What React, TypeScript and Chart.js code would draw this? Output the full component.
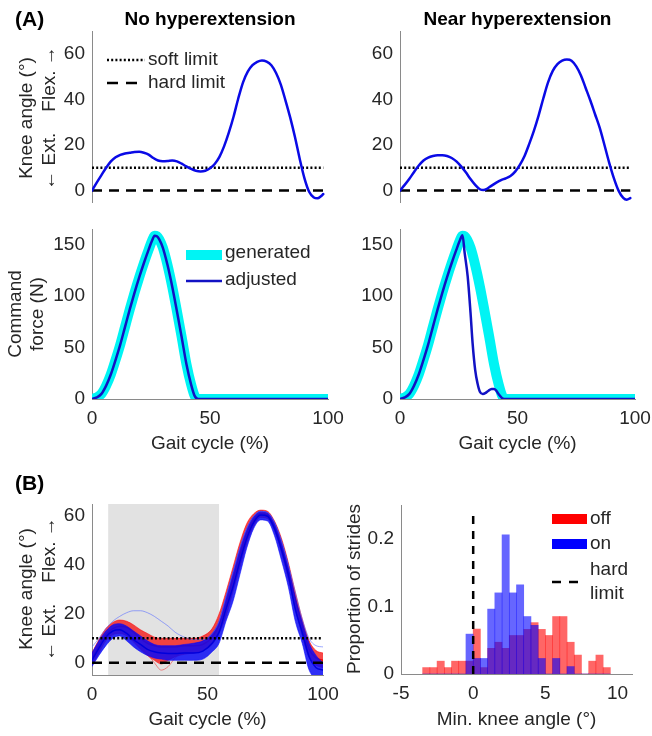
import React, { useEffect, useRef } from "react";
import { Chart, registerables } from "chart.js";

Chart.register(...registerables);

const FONT = "'Liberation Sans', Arial, Helvetica, sans-serif";
const INK = "#262626";
const AXIS = "#8a8a8a";

// ---------------- data ----------------
const KNEE_TICKS = [0, 20, 40, 60];
const GAIT_TICKS = [0, 50, 100];
const FORCE_TICKS = [0, 50, 100, 150];
const HIST_X_TICKS = [-5, 0, 5, 10];
const HIST_Y_TICKS = [0, 0.1, 0.2];

const SOFT_LIMIT = 10;
const HARD_LIMIT = 0;
const LIMIT_SPAN_A = [0, 98];
const LIMIT_SPAN_B = [0, 100];
const HIST_LIMIT_TOP = 0.24;
const ASSIST_WINDOW = [7, 55];

// (A) knee angle, no hyperextension
const NOHX_X = [0, 2, 4, 6, 8, 10, 12, 14, 16, 18, 20, 22, 24, 26, 28, 30, 32, 34, 36, 38, 40, 42, 44, 46, 48, 50, 52, 54, 56, 58, 60, 62, 64, 66, 68, 70, 72, 74, 76, 78, 80, 82, 84, 86, 88, 90, 92, 94, 95.5, 97, 98];
const NOHX_Y = [0, 3.5, 6.8, 10, 12.8, 14.6, 15.7, 16.3, 16.6, 16.9, 17, 16.6, 15.8, 14.3, 13.2, 12.9, 13, 13.2, 12.8, 11.8, 10.6, 9.5, 8.7, 8.4, 8.7, 9.8, 11.7, 14.8, 19.5, 25.5, 32.5, 40.5, 47.5, 52.2, 55, 56.5, 57.1, 56.6, 55, 51.6, 46.5, 39.5, 32, 23.5, 14, 5.5, -0.5, -3, -3.4, -2.5, -1.5];

// (A) knee angle, near hyperextension
const NEAR_X = [0, 2, 4, 6, 8, 10, 12, 14, 16, 18, 20, 22, 24, 26, 28, 30, 32, 34, 35.5, 37, 39, 41, 43, 45, 47, 49, 51, 53, 55, 57, 59, 61, 63, 65, 67, 69, 71, 73, 75, 77, 79, 81, 83, 85, 87, 89, 91, 93, 95, 96.5, 98];
const NEAR_Y = [0, 2.5, 5.2, 8.2, 11, 13.2, 14.5, 15.2, 15.5, 15.5, 15.2, 14.3, 12.8, 10.6, 8, 5.1, 2.5, 0.6, 0.3, 0.8, 2.2, 3.5, 4.6, 5.4, 6.4, 8.3, 11.3, 15.2, 20.5, 26.3, 33, 40.5, 47.5, 52.5, 55.5, 57, 57.5, 57, 54.5, 50.5, 45, 39.5, 33.5, 27.5, 20, 12.3, 5.5, 0, -3.2, -4, -3.3];

// (A) command force, generated
const GEN_X = [0, 2, 4, 6, 8, 10, 12, 14, 16, 18, 20, 22, 24, 25.5, 26.5, 27.5, 28.5, 30, 32, 34, 36, 38, 40, 42, 43.5, 45, 100];
const GEN_Y = [0, 1.5, 5, 13, 24, 38, 53, 70, 87, 103, 118, 132, 145, 154, 158.5, 158, 155, 147, 130, 109, 85, 60, 34, 14, 3, 0, 0];
// adjusted force, no hyperextension (identical to generated)
const ADJ_NOHX_X = GEN_X;
const ADJ_NOHX_Y = GEN_Y;
// adjusted force, near hyperextension
const ADJ_NEAR_X = [0, 2, 4, 6, 8, 10, 12, 14, 16, 18, 20, 22, 24, 25.5, 26.6, 27.5, 28.8, 30, 30.9, 32, 33, 34, 35.2, 36.5, 37.5, 39, 40, 41, 42, 43.5, 45, 100];
const ADJ_NEAR_Y = [0, 1.5, 5, 13, 24, 38, 53, 70, 87, 103, 118, 132, 145, 154, 159, 142, 119, 84, 54, 28, 15, 7, 4.8, 6, 7.8, 9.8, 9.8, 8, 4.5, 0.8, 0, 0];

// (B) stride bundles: gait cycle (%) and knee angle (deg)
const B_X = [0, 3, 6, 9, 12, 15, 18, 21, 24, 27, 30, 33, 36, 40, 44, 48, 52, 55, 58, 61, 64, 67, 70, 73, 76, 79, 82, 85, 88, 91, 94, 97, 100];
const OFF_LOWER = [-1, 4, 9, 11.5, 12, 11, 8.5, 5.5, 3, 1, -0.5, 1, 2.5, 3.5, 4, 5, 7.5, 12, 19, 29, 39, 49, 56, 59.5, 59, 54, 45, 34, 22, 11, 2, -1, -2];
const OFF_UPPER = [4, 9.5, 14, 16.5, 17.5, 17, 15.5, 13.5, 12, 10.5, 10, 10, 10, 10, 10, 11, 14, 20, 29, 39, 49, 57, 61, 62.5, 62, 58, 51, 41, 29, 18, 9, 5, 4];
const OFF_MEAN = [1.5, 7, 11.5, 14, 15, 14.5, 12.5, 10, 8, 7, 6.5, 6.5, 6.5, 7, 7, 7.5, 10.5, 15.5, 24, 34, 44, 53, 58.5, 61, 60.5, 56, 48, 38, 26, 15, 5.5, 2, 1];
const OFF_DIP = [0, 5, 10, 13, 14, 12.5, 10, 7, 3.5, 0, -3, -1.5, 2, 4.5, 5.5, 6.5, 9.5, 14.5, 23, 33, 43, 52, 58, 61, 60, 55.5, 47, 37, 25, 13, 4, -1, 0];
const ON_LOWER = [-1.5, 3, 7, 10, 11, 9, 6.5, 4.5, 3, 2, 1.5, 1, 1, 1, 1, 1.5, 4.5, 8, 17, 25, 36, 47, 55, 58.5, 58, 52, 42, 31, 17, 8, -3, -6, -6];
const ON_UPPER = [4, 9, 13, 15.5, 16, 15, 13, 11, 9, 7.5, 7, 7, 7, 7.5, 8, 9, 12, 17, 27, 37, 47, 55, 60, 62, 61.5, 57.5, 50, 40, 27, 17, 8, 3, 0];
const ON_MEAN = [1, 6, 10.5, 13, 13.5, 12, 9.5, 7.5, 5.5, 4.5, 4, 3.8, 3.8, 4, 4, 4.8, 8, 12.5, 22, 31, 41.5, 51, 57.5, 60.5, 60, 55, 46.5, 36, 22, 12.5, 2.5, -2, -3];
const ON_STRAY = [6.5, 10, 14, 17, 19, 20.5, 21.3, 21.3, 20.5, 19, 17, 15, 12.5, 10.5, 9.5, 9.5, 12, 17, 27, 37, 47, 55, 60, 62, 61.5, 57.5, 50, 40, 29, 18, 10, 7, 6.5];

// (B) histogram of minimum knee angle (bin centres, 0.5 deg bins)
const HIST_BINS = [-3.25, -2.75, -2.25, -1.75, -1.25, -0.75, -0.25, 0.25, 0.75, 1.25, 1.75, 2.25, 2.75, 3.25, 3.75, 4.25, 4.75, 5.25, 5.75, 6.25, 6.75, 7.25, 7.75, 8.25, 8.75, 9.25];
const OFF_PROP = [0.0095, 0.0095, 0.019, 0.0095, 0.019, 0.019, 0.019, 0.0665, 0.0095, 0.038, 0.047, 0.038, 0.057, 0.057, 0.066, 0.076, 0.066, 0.057, 0.085, 0.085, 0.047, 0.028, 0, 0.019, 0.028, 0.0095];
const ON_PROP = [0, 0, 0, 0, 0, 0, 0.059, 0.023, 0.023, 0.096, 0.12, 0.206, 0.12, 0.132, 0.085, 0.072, 0.023, 0, 0.023, 0, 0.011, 0, 0, 0, 0, 0];

// ---------------- layout ----------------
type Rect = { x: number; y: number; w: number; h: number };
type Plot = { l: number; t: number; r: number; b: number };
const YW = 60;
const XH = 40;

const R_KNEE_L: Rect = { x: 0, y: 0, w: 340, h: 215 };
const P_KNEE_L: Plot = { l: 92, t: 31, r: 328, b: 202 };
const R_KNEE_R: Rect = { x: 330, y: 0, w: 322, h: 215 };
const P_KNEE_R: Plot = { l: 400, t: 31, r: 635, b: 202 };
const R_FORCE_L: Rect = { x: 0, y: 215, w: 345, h: 240 };
const P_FORCE_L: Plot = { l: 92, t: 229, r: 328, b: 399 };
const R_FORCE_R: Rect = { x: 330, y: 215, w: 322, h: 240 };
const P_FORCE_R: Plot = { l: 400, t: 229, r: 635, b: 399 };
const R_B: Rect = { x: 0, y: 460, w: 345, h: 276 };
const P_B: Plot = { l: 92, t: 504, r: 323, b: 675 };
const R_H: Rect = { x: 330, y: 460, w: 322, h: 276 };
const P_H: Plot = { l: 401, t: 505, r: 632, b: 674 };

// ---------------- helpers ----------------
const pts = (xs: number[], ys: number[]) => xs.map((x, i) => ({ x, y: ys[i] }));

function zeroPad(s: any) {
  s.paddingLeft = 0;
  s.paddingRight = 0;
  s.paddingTop = 0;
  s.paddingBottom = 0;
}

function yScale(min: number, max: number, ticks: number[]) {
  return {
    type: "linear",
    position: "left",
    min,
    max,
    afterBuildTicks: (s: any) => {
      s.ticks = ticks.map((v) => ({ value: v }));
    },
    ticks: {
      font: { family: FONT, size: 19 },
      color: INK,
      padding: 7,
      autoSkip: false,
      callback: (v: any) => String(v),
    },
    grid: { display: false, drawTicks: false },
    border: { display: true, color: AXIS, width: 1 },
    afterFit: (s: any) => {
      s.width = YW;
      zeroPad(s);
    },
  };
}

function xScale(min: number, max: number, ticks: number[] | null) {
  if (!ticks) return { type: "linear", min, max, display: false, offset: false };
  return {
    type: "linear",
    position: "bottom",
    min,
    max,
    offset: false,
    afterBuildTicks: (s: any) => {
      s.ticks = ticks.map((v) => ({ value: v }));
    },
    ticks: {
      font: { family: FONT, size: 19 },
      color: INK,
      padding: 8,
      maxRotation: 0,
      autoSkip: false,
      callback: (v: any) => String(v),
    },
    grid: { display: false, drawTicks: false },
    border: { display: true, color: AXIS, width: 1 },
    afterFit: (s: any) => {
      s.height = XH;
      zeroPad(s);
    },
  };
}

function padding(rect: Rect, plot: Plot, xShown: boolean) {
  return {
    left: plot.l - rect.x - YW,
    top: plot.t - rect.y,
    right: rect.x + rect.w - plot.r,
    bottom: rect.y + rect.h - plot.b - (xShown ? XH : 0),
  };
}

function text(
  ctx: CanvasRenderingContext2D,
  s: string,
  x: number,
  y: number,
  o: { size?: number; bold?: boolean; align?: CanvasTextAlign; rot?: boolean; color?: string } = {}
) {
  ctx.save();
  ctx.font = `${o.bold ? "bold " : ""}${o.size ?? 19}px ${FONT}`;
  ctx.fillStyle = o.color ?? INK;
  ctx.textAlign = o.align ?? "center";
  ctx.textBaseline = "middle";
  ctx.translate(x, y);
  if (o.rot) ctx.rotate(-Math.PI / 2);
  ctx.fillText(s, 0, 0);
  ctx.restore();
}

function seg(ctx: CanvasRenderingContext2D, x0: number, y0: number, x1: number, y1: number, color: string, width: number, dash: number[] = []) {
  ctx.save();
  ctx.strokeStyle = color;
  ctx.lineWidth = width;
  ctx.setLineDash(dash);
  ctx.beginPath();
  ctx.moveTo(x0, y0);
  ctx.lineTo(x1, y1);
  ctx.stroke();
  ctx.restore();
}

function decor(rect: Rect, draw: (ctx: CanvasRenderingContext2D) => void, under?: (chart: any) => void) {
  return {
    id: "decor",
    beforeDatasetsDraw(chart: any) {
      if (under) under(chart);
    },
    afterDraw(chart: any) {
      const ctx = chart.ctx as CanvasRenderingContext2D;
      ctx.save();
      ctx.translate(-rect.x, -rect.y);
      draw(ctx);
      ctx.restore();
    },
  };
}

function curve(xs: number[], ys: number[], color: string, width: number, extra: any = {}) {
  return {
    type: "line",
    data: pts(xs, ys),
    borderColor: color,
    borderWidth: width,
    pointRadius: 0,
    fill: false,
    cubicInterpolationMode: "monotone",
    borderJoinStyle: "round",
    borderCapStyle: "round",
    ...extra,
  };
}

function limitLine(y: number, span: number[], dash: number[], order: number) {
  return {
    type: "line",
    data: span.map((x) => ({ x, y })),
    borderColor: "#000",
    borderWidth: 2.5,
    borderDash: dash,
    borderCapStyle: "butt",
    pointRadius: 0,
    fill: false,
    order,
  };
}

const DOT = [2, 2.2];
const DASH = [10, 7];
const BLUE = "#0a0ae6";
const DARKBLUE = "#1212c4";
const CYAN = "#00f4f4";

function baseOptions(rect: Rect, plot: Plot, x: any, y: any, xShown: boolean) {
  return {
    responsive: false,
    maintainAspectRatio: false,
    animation: false,
    events: [],
    layout: { padding: padding(rect, plot, xShown) },
    plugins: { legend: { display: false }, tooltip: { enabled: false } },
    scales: { x, y },
  };
}

// ---------------- chart builders ----------------
function kneeA(rect: Rect, plot: Plot, xs: number[], ys: number[], title: string, left: boolean) {
  return {
    type: "line",
    data: {
      datasets: [
        limitLine(SOFT_LIMIT, LIMIT_SPAN_A, DOT, 5),
        limitLine(HARD_LIMIT, LIMIT_SPAN_A, DASH, 5),
        curve(xs, ys, BLUE, 2.5, { order: 0 }),
      ],
    },
    options: baseOptions(rect, plot, xScale(0, 100, null), yScale(-5, 70, KNEE_TICKS), false),
    plugins: [
      decor(rect, (ctx) => {
        const cx = (plot.l + plot.r) / 2;
        text(ctx, title, cx, 20, { bold: true, color: "#000" });
        if (left) {
          text(ctx, "(A)", 15, 20, { bold: true, size: 21, align: "left", color: "#000" });
          const cy = 118;
          text(ctx, "Knee angle (°)", 27, cy, { rot: true });
          text(ctx, "← Ext.    Flex. →", 50, cy, { rot: true });
          seg(ctx, 107, 60, 145, 60, "#000", 2.5, DOT);
          text(ctx, "soft limit", 148, 60, { align: "left" });
          seg(ctx, 107, 83, 118, 83, "#000", 2.5);
          seg(ctx, 126, 83, 137, 83, "#000", 2.5);
          text(ctx, "hard limit", 148, 83, { align: "left" });
        }
      }),
    ],
  };
}

function forceA(rect: Rect, plot: Plot, ax: number[], ay: number[], left: boolean) {
  return {
    type: "line",
    data: {
      datasets: [
        curve(GEN_X, GEN_Y, CYAN, 10, { order: 2, borderCapStyle: "butt" }),
        curve(ax, ay, DARKBLUE, 2.5, { order: 1 }),
      ],
    },
    options: baseOptions(rect, plot, xScale(0, 100, GAIT_TICKS), yScale(0, 165, FORCE_TICKS), true),
    plugins: [
      decor(rect, (ctx) => {
        const cx = (plot.l + plot.r) / 2;
        text(ctx, "Gait cycle (%)", cx, 444);
        if (left) {
          text(ctx, "Command", 16, 314, { rot: true });
          text(ctx, "force (N)", 38, 314, { rot: true });
          seg(ctx, 186, 255, 222, 255, CYAN, 10);
          text(ctx, "generated", 225, 253, { align: "left" });
          seg(ctx, 186, 281, 222, 281, DARKBLUE, 2.5);
          text(ctx, "adjusted", 225, 280, { align: "left" });
        }
      }),
    ],
  };
}

function kneeB() {
  const red = "rgba(255,0,0,0.55)";
  const blue = "rgba(0,0,255,0.55)";
  return {
    type: "line",
    data: {
      datasets: [
        curve(B_X, OFF_LOWER, red, 1, { order: 10, clip: 0 }),
        curve(B_X, OFF_UPPER, red, 1, { order: 9, clip: 0, fill: "-1", backgroundColor: "rgba(245,20,20,0.78)" }),
        curve(B_X, OFF_MEAN, "rgba(230,0,0,0.9)", 1.5, { order: 8, clip: 0 }),
        curve(B_X, OFF_DIP, "rgba(240,60,60,0.6)", 1, { order: 8, clip: 0 }),
        curve(B_X, ON_LOWER, blue, 1, { order: 5, clip: 0 }),
        curve(B_X, ON_UPPER, blue, 1, { order: 4, clip: 0, fill: "-1", backgroundColor: "rgba(10,10,245,0.85)" }),
        curve(B_X, ON_MEAN, "rgba(0,0,220,1)", 1.5, { order: 3, clip: 0 }),
        curve(B_X, ON_STRAY, "rgba(90,110,255,0.6)", 1, { order: 3, clip: 0 }),
        limitLine(SOFT_LIMIT, LIMIT_SPAN_B, DOT, 0),
        limitLine(HARD_LIMIT, LIMIT_SPAN_B, DASH, 0),
      ],
    },
    options: baseOptions(R_B, P_B, xScale(0, 100, GAIT_TICKS), yScale(-5, 65, KNEE_TICKS), true),
    plugins: [
      decor(
        R_B,
        (ctx) => {
          text(ctx, "(B)", 15, 484, { bold: true, size: 21, align: "left", color: "#000" });
          text(ctx, "Knee angle (°)", 27, 589, { rot: true });
          text(ctx, "← Ext.    Flex. →", 50, 589, { rot: true });
          text(ctx, "Gait cycle (%)", (P_B.l + P_B.r) / 2, 720);
        },
        (chart) => {
          const { top, bottom } = chart.chartArea;
          const xs = chart.scales.x;
          const x0 = xs.getPixelForValue(ASSIST_WINDOW[0]);
          const x1 = xs.getPixelForValue(ASSIST_WINDOW[1]);
          const ctx = chart.ctx;
          ctx.save();
          ctx.fillStyle = "#e2e2e2";
          ctx.fillRect(x0, top, x1 - x0, bottom - top);
          ctx.restore();
        }
      ),
    ],
  };
}

function histB() {
  const bar = (props: number[], color: string, order: number) => ({
    type: "bar",
    data: pts(HIST_BINS, props),
    backgroundColor: color,
    borderWidth: 0,
    grouped: false,
    barPercentage: 1,
    categoryPercentage: 1,
    order,
  });
  return {
    type: "bar",
    data: {
      datasets: [
        {
          type: "line",
          data: [
            { x: HARD_LIMIT, y: 0 },
            { x: HARD_LIMIT, y: HIST_LIMIT_TOP },
          ],
          borderColor: "#000",
          borderWidth: 2.5,
          borderDash: [8, 7],
          borderCapStyle: "butt",
          pointRadius: 0,
          fill: false,
          order: 0,
        },
        bar(ON_PROP, "rgba(0,0,255,0.6)", 1),
        bar(OFF_PROP, "rgba(255,0,0,0.6)", 2),
      ],
    },
    options: baseOptions(R_H, P_H, xScale(-5, 11, HIST_X_TICKS), yScale(0, 0.25, HIST_Y_TICKS), true),
    plugins: [
      decor(R_H, (ctx) => {
        text(ctx, "Proportion of strides", 355, 589, { rot: true });
        text(ctx, "Min. knee angle (°)", (P_H.l + P_H.r) / 2, 720);
        ctx.fillStyle = "#ff0000";
        ctx.fillRect(552, 514, 35, 10);
        text(ctx, "off", 590, 519, { align: "left" });
        ctx.fillStyle = "#0000ff";
        ctx.fillRect(552, 539, 35, 10);
        text(ctx, "on", 590, 544, { align: "left" });
        seg(ctx, 552, 582, 561, 582, "#000", 2.5);
        seg(ctx, 569, 582, 578, 582, "#000", 2.5);
        text(ctx, "hard", 590, 570, { align: "left" });
        text(ctx, "limit", 590, 594, { align: "left" });
      }),
    ],
  };
}

// ---------------- components ----------------
function Panel({ rect, make }: { rect: Rect; make: () => any }) {
  const ref = useRef<HTMLCanvasElement>(null);
  useEffect(() => {
    const chart = new Chart(ref.current as HTMLCanvasElement, make());
    return () => chart.destroy();
  }, []);
  return (
    <div style={{ position: "absolute", left: rect.x, top: rect.y, width: rect.w, height: rect.h }}>
      <canvas ref={ref} width={rect.w} height={rect.h} style={{ width: rect.w, height: rect.h, display: "block" }} />
    </div>
  );
}

export default function App() {
  return (
    <div style={{ position: "absolute", left: 0, top: 0, width: 652, height: 736, background: "#fff", overflow: "hidden" }}>
      <Panel rect={R_KNEE_L} make={() => kneeA(R_KNEE_L, P_KNEE_L, NOHX_X, NOHX_Y, "No hyperextension", true)} />
      <Panel rect={R_KNEE_R} make={() => kneeA(R_KNEE_R, P_KNEE_R, NEAR_X, NEAR_Y, "Near hyperextension", false)} />
      <Panel rect={R_FORCE_L} make={() => forceA(R_FORCE_L, P_FORCE_L, ADJ_NOHX_X, ADJ_NOHX_Y, true)} />
      <Panel rect={R_FORCE_R} make={() => forceA(R_FORCE_R, P_FORCE_R, ADJ_NEAR_X, ADJ_NEAR_Y, false)} />
      <Panel rect={R_B} make={kneeB} />
      <Panel rect={R_H} make={histB} />
    </div>
  );
}
